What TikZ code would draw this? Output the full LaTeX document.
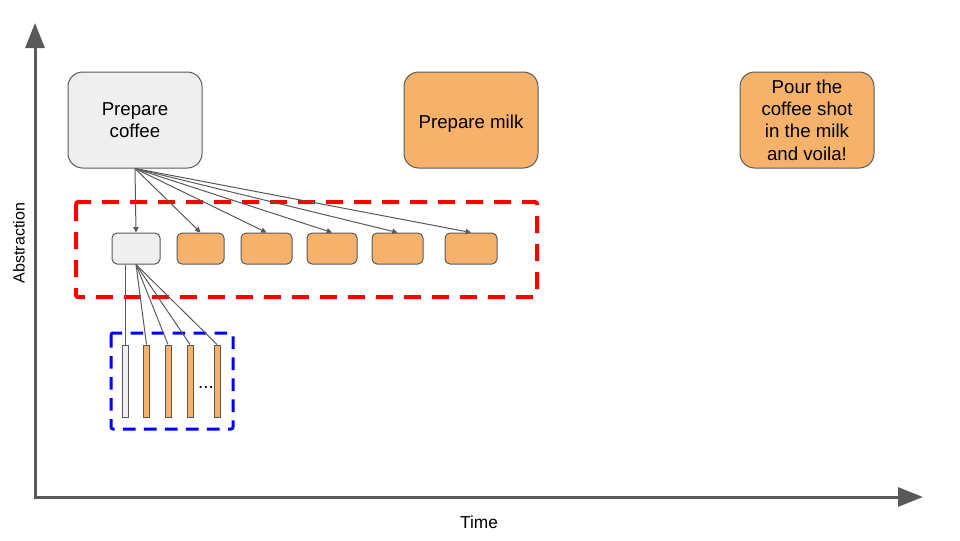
\documentclass[tikz,border=0pt]{standalone}
\usepackage{fontspec}
\setmainfont{Liberation Sans}
\usetikzlibrary{arrows.meta}
\definecolor{edge}{HTML}{595959}
\definecolor{lgray}{HTML}{EFEFEF}
\definecolor{orng}{HTML}{F6B26B}
\definecolor{dred}{HTML}{FF0000}
\definecolor{dblue}{HTML}{0000FF}
\begin{document}
\begin{tikzpicture}[x=0.75pt,y=-0.75pt,
 bigbox/.style={draw=edge, line width=0.75pt, rounded corners=11pt, minimum width=100.5pt, minimum height=72pt, inner sep=0pt, align=center, font=\fontsize{14}{16.8}\selectfont, execute at begin node={\rule{0pt}{15pt}}},
 smallbox/.style={draw=edge, line width=0.75pt, rounded corners=3.75pt, minimum height=23.25pt, inner sep=0pt},
 barbox/.style={draw=edge, line width=0.75pt, minimum width=4.5pt, minimum height=54pt, inner sep=0pt},
 conn/.style={draw=edge, line width=0.75pt},
 arr/.style={conn, -{Triangle[length=4pt,width=4pt]}},
 axisline/.style={draw=edge, line width=2.25pt, -{Triangle[length=18.75pt,width=14.25pt]}},
 reddash/.style={draw=dred, line width=3pt, rounded corners=1.5pt, dash pattern=on 12.75pt off 8.25pt},
 bluedash/.style={draw=dblue, line width=2.25pt, rounded corners=1.5pt, dash pattern=on 9.5pt off 6.25pt},
 lab/.style={font=\fontsize{14}{16.5}\selectfont, inner sep=0pt}
]
\useasboundingbox (0,0) rectangle (960,540);

% axes
\coordinate (o) at (35,498.5);
\coordinate (ytop) at (35,23);
\coordinate (xo) at (33.5,497);
\coordinate (xend) at (923,497);
\draw[axisline] (o) -- (ytop);
\draw[axisline] (xo) -- (xend);
\node[rotate=90, font=\fontsize{12}{14}\selectfont, inner sep=0pt] (ylab) at (19,243) {Abstraction};
\node[font=\fontsize{13}{15}\selectfont, inner sep=0pt, anchor=base] (xlab) at (479,528) {Time};

% dashed groups
\draw[reddash] (76,202) rectangle (537,297);
\draw[bluedash] (111,333) rectangle (233,429);

% top-level boxes
\node[bigbox, fill=lgray] (coffee) at (135,120) {Prepare\\coffee};
\node[bigbox, fill=orng] (milk) at (471,120) {Prepare milk};
\node[bigbox, fill=orng] (pour) at (807,120) {Pour the\\coffee shot\\in the milk\\and voila!};

% second level boxes
\node[smallbox, fill=lgray, minimum width=36pt] (s1) at (136,248.5) {};
\node[smallbox, fill=orng, minimum width=35.25pt] (s2) at (200.5,248.5) {};
\node[smallbox, fill=orng, minimum width=38.25pt] (s3) at (266.5,248.5) {};
\node[smallbox, fill=orng, minimum width=37.5pt] (s4) at (332,248.5) {};
\node[smallbox, fill=orng, minimum width=38.25pt] (s5) at (397.5,248.5) {};
\node[smallbox, fill=orng, minimum width=39pt] (s6) at (471,248.5) {};

% third level bars
\node[barbox, fill=lgray] (b1) at (125,381) {};
\node[barbox, fill=orng] (b2) at (146.5,381) {};
\node[barbox, fill=orng] (b3) at (168,381) {};
\node[barbox, fill=orng] (b4) at (190,381) {};
\node[barbox, fill=orng] (b5) at (217,381) {};
\node[lab, anchor=base] (dots) at (206,388) {...};

% connectors
\foreach \t in {s1,s2,s3,s4,s5,s6}
  \draw[arr] (coffee.south) -- (\t.north);
\draw[conn] (s1.south -| b1.north) -- (b1.north);
\foreach \t in {b2,b3,b4,b5}
  \draw[conn] (s1.south) -- (\t.north);
\end{tikzpicture}
\end{document}
